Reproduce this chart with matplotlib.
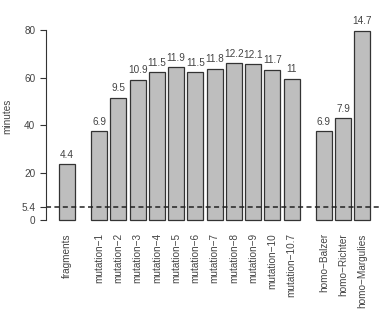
import matplotlib.pyplot as plt
import numpy as np

plt.rcParams['font.family'] = ['Liberation Sans', 'DejaVu Sans']

labels = ['fragments',
          'mutation\u22121', 'mutation\u22122', 'mutation\u22123', 'mutation\u22124',
          'mutation\u22125', 'mutation\u22126', 'mutation\u22127', 'mutation\u22128',
          'mutation\u22129', 'mutation\u221210', 'mutation\u221210.7',
          'homo\u2212Balzer', 'homo\u2212Richter', 'homo\u2212Margulies']
minutes = [23.7, 37.4, 51.5, 59.1, 62.2, 64.4, 62.2, 63.7, 66.1, 65.7, 63.3, 59.5,
           37.4, 43.0, 79.7]
bar_text = ['4.4', '6.9', '9.5', '10.9', '11.5', '11.9', '11.5', '11.8', '12.2',
            '12.1', '11.7', '11', '6.9', '7.9', '14.7']
baseline = 5.4
groups = [1, 11, 3]

# bar positions, R barplot style: width 1, space 0.2, space 1 between groups
lefts = []
x = 0.0
for g, n in enumerate(groups):
    if g > 0:
        x += 1.0
    for i in range(n):
        if i > 0:
            x += 0.2
        lefts.append(x)
        x += 1.0
centers = np.array(lefts) + 0.5

W, H = 379, 329
fig = plt.figure(figsize=(W / 100, H / 100), dpi=100)
px_unit = 16.05
ax_left = 45.7
x_lo = -(59 - ax_left) / px_unit
x_hi = lefts[-1] + 1 + (W - 370.3) / px_unit
y_scale = 2.379
y0 = 220.3
y_lo, y_hi = -4, 84
top_px = y0 - y_hi * y_scale
bot_px = y0 - y_lo * y_scale
ax = fig.add_axes([ax_left / W, 1 - bot_px / H, (W - ax_left) / W, (bot_px - top_px) / H])

grey_text = '#444444'
fs = 7.2
ax.bar(centers, minutes, width=1.0, color='#bebebe', edgecolor='#333333', linewidth=0.9)
for cx, h, t in zip(centers, minutes, bar_text):
    ax.text(cx, h + 1.8, t, ha='center', va='bottom', fontsize=fs, color=grey_text)

ax.axhline(baseline, color='#222222', linewidth=1.1, dashes=(3.3, 2.2))

ax.set_xlim(x_lo, x_hi)
ax.set_ylim(y_lo, y_hi)
for s in ['top', 'right', 'bottom']:
    ax.spines[s].set_visible(False)
ax.spines['left'].set_bounds(0, 80)
ax.spines['left'].set_color('#333333')
ax.spines['left'].set_linewidth(0.8)
ax.set_yticks([0, baseline, 20, 40, 60, 80])
ax.set_yticklabels(['0', '5.4', '20', '40', '60', '80'])
ax.tick_params(axis='y', length=4, width=0.8, color='#333333', labelsize=fs,
               labelcolor=grey_text, pad=3.5)
ax.set_xticks(centers)
ax.set_xticklabels(labels, rotation=90, fontsize=fs, color=grey_text, va='top')
ax.tick_params(axis='x', length=0, pad=2.5)
ax.patch.set_visible(False)

fig.text(7 / W, 1 - 116 / H, 'minutes', rotation=90, ha='center', va='center',
         fontsize=fs, color=grey_text)

fig.savefig('out.png', dpi=100)
